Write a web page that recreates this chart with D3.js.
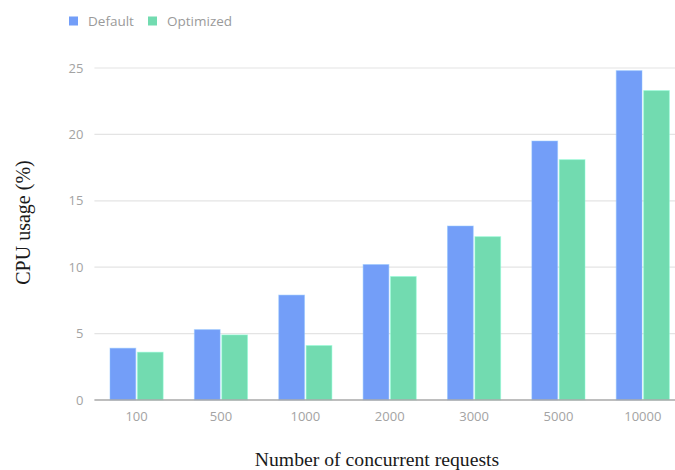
<!DOCTYPE html>
<html>
<head>
<meta charset="utf-8">
<script src="https://cdn.jsdelivr.net/npm/d3@7"></script>
<style>
  html, body { margin: 0; padding: 0; background: #fff; }
  svg { display: block; }
</style>
</head>
<body>
<svg id="chart" width="675" height="470"></svg>
<script>
// CPU usage per concurrency level, default vs optimized configuration
const categories = ["100", "500", "1000", "2000", "3000", "5000", "10000"];
const seriesNames = ["Default", "Optimized"];
const defaultValues = [3.9, 5.3, 7.9, 10.2, 13.1, 19.5, 24.8];
const optimizedValues = [3.6, 4.9, 4.1, 9.3, 12.3, 18.1, 23.3];
const yTicks = [0, 5, 10, 15, 20, 25];
const colors = ["#739ef8", "#72dbb0"];

const seriesValues = [defaultValues, optimizedValues];
const rows = categories.map((c, i) => ({
  category: c,
  values: seriesNames.map((s, j) => ({ series: s, value: seriesValues[j][i] }))
}));

const svg = d3.select("#chart");
const plot = { left: 94.4, right: 685, top: 68, bottom: 400 };

const x = d3.scaleBand()
  .domain(categories)
  .range([plot.left, plot.right])
  .paddingInner(0.37)
  .paddingOuter(0.185);

const xs = d3.scaleBand()
  .domain(seriesNames)
  .range([0, x.bandwidth()])
  .paddingInner(0.06);

const y = d3.scaleLinear().domain([0, 25]).range([plot.bottom, plot.top]);
const color = d3.scaleOrdinal().domain(seriesNames).range(colors);

const tickFont = "'Open Sans', 'Noto Sans', sans-serif";

// horizontal gridlines
svg.append("g")
  .selectAll("line")
  .data(yTicks.filter(t => t > 0))
  .join("line")
  .attr("x1", plot.left)
  .attr("x2", 675)
  .attr("y1", d => y(d))
  .attr("y2", d => y(d))
  .attr("stroke", "#e4e4e4")
  .attr("stroke-width", 1.2);

// y axis labels
const yAxis = d3.axisLeft(y).tickValues(yTicks).tickSize(0).tickPadding(11);
const yg = svg.append("g").attr("transform", `translate(${plot.left},0)`).call(yAxis);
yg.select(".domain").remove();
yg.selectAll("text")
  .attr("fill", "#a3a3a3")
  .style("font-family", tickFont)
  .style("font-size", "13px");

// bars
const groups = svg.append("g")
  .selectAll("g")
  .data(rows)
  .join("g")
  .attr("transform", d => `translate(${x(d.category)},0)`);

groups.selectAll("rect")
  .data(d => d.values)
  .join("rect")
  .attr("x", d => xs(d.series))
  .attr("width", xs.bandwidth())
  .attr("y", d => y(d.value))
  .attr("height", d => y(0) - y(d.value))
  .attr("fill", d => color(d.series))
  .attr("stroke", d => d3.color(color(d.series)).brighter(0.6))
  .attr("stroke-opacity", 0.5)
  .attr("stroke-width", 1);

// x axis baseline and labels
const xAxis = d3.axisBottom(x).tickSize(0).tickPadding(12);
const xg = svg.append("g").attr("transform", `translate(0,${plot.bottom})`).call(xAxis);
xg.select(".domain").remove();
xg.selectAll("text")
  .attr("fill", "#a3a3a3")
  .style("font-family", tickFont)
  .style("font-size", "13px");

svg.append("line")
  .attr("x1", plot.left)
  .attr("x2", 675)
  .attr("y1", y(0))
  .attr("y2", y(0))
  .attr("stroke", "#a8a8a8")
  .attr("stroke-width", 1.5);

// axis titles
svg.append("text")
  .attr("x", 377)
  .attr("y", 466)
  .attr("text-anchor", "middle")
  .style("font-family", "'Liberation Serif', 'Times New Roman', serif")
  .style("font-size", "19.7px")
  .attr("fill", "#1a1a1a")
  .text("Number of concurrent requests");

svg.append("text")
  .attr("transform", "translate(30,222.5) rotate(-90)")
  .attr("text-anchor", "middle")
  .style("font-family", "'Liberation Serif', 'Times New Roman', serif")
  .style("font-size", "20px")
  .attr("fill", "#1a1a1a")
  .text("CPU usage (%)");

// legend
const legendX = [69, 148];
const legend = svg.append("g")
  .selectAll("g")
  .data(seriesNames)
  .join("g")
  .attr("transform", (d, i) => `translate(${legendX[i]},16.5)`);

legend.append("rect")
  .attr("width", 9)
  .attr("height", 9)
  .attr("fill", d => color(d));

legend.append("text")
  .attr("x", 19)
  .attr("y", 9)
  .attr("fill", "#9a9a9a")
  .style("font-family", tickFont)
  .style("font-size", "13.5px")
  .text(d => d);
</script>
</body>
</html>
